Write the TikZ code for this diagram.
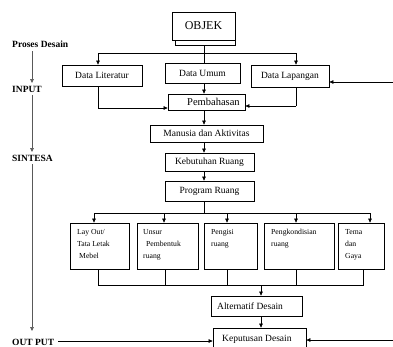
\documentclass[tikz,border=0pt]{standalone}
\usepackage{fontspec}
\setmainfont{Liberation Serif}
\usetikzlibrary{arrows.meta}
\begin{document}
\begin{tikzpicture}[x=1pt,y=-1pt,
 box/.style={draw, line width=0.8pt, inner sep=0pt, font=\fontsize{9.5}{11}\selectfont},
 btext/.style={anchor=north west, inner sep=0pt, align=left, font=\fontsize{7.7}{12}\selectfont},
 conn/.style={line width=0.6pt},
 arr/.style={conn, -{Triangle[length=4pt,width=3.6pt]}},
 lbl/.style={font=\bfseries\fontsize{9.5}{11}\selectfont, anchor=west, inner sep=0pt}]
\useasboundingbox (0,0) rectangle (393,346);
\fill[white] (0,0) rectangle (393,346);
\clip (0,0) rectangle (393,346);
% guide coordinates
\coordinate (spine) at (204,0);
% top
\draw[line width=0.8pt] (175,38) rectangle (235,45);
\node[box, fill=white, minimum width=63pt, minimum height=28pt, font=\fontsize{12}{14}\selectfont] (objek) at (203.5,26) {OBJEK};
\coordinate (objb) at (204,45);
\node[box, minimum width=80pt, minimum height=21pt] (dlit) at (102,75.5) {Data Literatur};
\node[box, minimum width=75pt, minimum height=20pt] (dum) at (202.5,73) {Data Umum};
\node[box, minimum width=78pt, minimum height=22pt] (dlap) at (290,76) {Data Lapangan};
\node[box, minimum width=77pt, minimum height=16pt] (pem) at (206.5,102) {};
\node[anchor=west, inner sep=0pt, font=\fontsize{10.5}{12}\selectfont] (pemt) at (187,102) {Pembahasan};
\node[box, minimum width=113pt, minimum height=17pt] (man) at (206.5,133.5) {Manusia dan Aktivitas};
\node[box, minimum width=89pt, minimum height=18pt] (keb) at (209.5,162) {Kebutuhan Ruang};
\node[box, minimum width=89pt, minimum height=20pt] (prog) at (209.5,191) {Program Ruang};
% bottom boxes
\node[box, minimum width=59pt, minimum height=46pt] (b1) at (99.5,246) {};
\node[box, minimum width=61pt, minimum height=46pt] (b2) at (167.5,246) {};
\node[box, minimum width=53pt, minimum height=46pt] (b3) at (230.5,246) {};
\node[box, minimum width=70pt, minimum height=46pt] (b4) at (299,246) {};
\node[box, minimum width=46pt, minimum height=46pt] (b5) at (361,246) {};
\node[btext] (b1t) at (77,229) {Lay Out/\\Tata Letak\\\hspace{2pt}Mebel};
\node[btext] (b2t) at (143,229) {Unsur\\\hspace{3pt}Pembentuk\\ruang};
\node[btext] (b3t) at (211,229) {Pengisi\\ruang};
\node[btext] (b4t) at (271,229) {Pengkondisian\\ruang};
\node[btext] (b5t) at (345,229) {Tema\\dan\\Gaya};
\node[box, minimum width=91pt, minimum height=20pt] (alt) at (256.5,306) {};
\node[anchor=west, inner sep=0pt, font=\fontsize{9.5}{11}\selectfont] (altt) at (217,306) {Alternatif Desain};
\node[box, minimum width=93pt, minimum height=30pt] (kep) at (259.5,343) {};
\node[anchor=west, inner sep=0pt, font=\fontsize{9.5}{11}\selectfont] (kept) at (222,339) {Keputusan Desain};
% left labels
\node[lbl] (lp) at (12,44) {Proses Desain};
\node[lbl] (lin) at (12,89) {INPUT};
\node[lbl] (lsin) at (12,158) {SINTESA};
\node[lbl] (lout) at (12,342) {OUT PUT};
% left spine
\coordinate (s1) at (32,51);
\coordinate (s2) at (32,83);
\coordinate (s3) at (32,95);
\coordinate (s4) at (32,152);
\coordinate (s5) at (32,164);
\coordinate (s6) at (32,331);
\draw[arr, gray!70!black] (s1) -- (s2);
\draw[arr, gray!70!black] (s3) -- (s4);
\draw[arr, gray!70!black] (s5) -- (s6);
% top connectors
\coordinate (j1) at (204,53);
\draw[conn] (objb) -- (dum.north -| spine);
\draw[arr] (j1) -| (dlit.north -| 98,0);
\draw[arr] (j1) -| (dlap.north -| 296,0);
\coordinate (rin) at (393,82);
\draw[arr] (rin) -- (dlap.east |- rin);
\draw[arr] (dum.south -| spine) -- (pem.north -| spine);
\coordinate (dl1) at (98,108);
\draw[conn] (dlit.south -| dl1) -- (dl1);
\draw[arr] (dl1) -- (pem.west |- dl1);
\coordinate (dp1) at (296,106);
\draw[conn] (dlap.south -| dp1) -- (dp1);
\draw[arr] (dp1) -- (pem.east |- dp1);
\draw[arr] (pem.south -| spine) -- (man.north -| spine);
\draw[arr] (man.south -| spine) -- (keb.north -| spine);
\draw[arr] (keb.south -| spine) -- (prog.north -| spine);
% distribution
\coordinate (d0) at (204,213);
\draw[conn] (prog.south -| spine) -- (d0);
\draw[conn] (94,213) -- (370,213);
\draw[arr] (94,213) -- (b1.north -| 94,0);
\draw[arr] (164,213) -- (b2.north -| 164,0);
\draw[arr] (227,213) -- (b3.north -| 227,0);
\draw[arr] (296,213) -- (b4.north -| 296,0);
\draw[arr] (370,213) -- (b5.north -| 370,0);
% collection
\coordinate (c1) at (98,285);
\coordinate (c5) at (363,285);
\coordinate (cm) at (261,285);
\draw[conn] (b1.south -| c1) -- (c1) -- (c5) -- (b5.south -| c5);
\draw[conn] (b2.south -| 165,0) -- (165,285);
\draw[conn] (b3.south -| 227,0) -- (227,285);
\draw[conn] (b4.south -| 296,0) -- (296,285);
\draw[arr] (cm) -- (alt.north -| cm);
\draw[arr] (alt.south -| cm) -- (kep.north -| cm);
% output arrows
\coordinate (ro) at (393,340);
\draw[arr] (ro) -- (kep.east |- ro);
\draw[arr] (lout.east |- 0,341) ++(4,0) -- (kep.west |- 0,341);
\end{tikzpicture}
\end{document}
